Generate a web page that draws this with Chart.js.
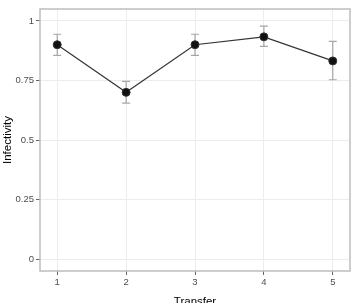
<!DOCTYPE html>
<html><head><meta charset="utf-8">
<script src="https://cdn.jsdelivr.net/npm/chart.js@4"></script>
<style>html,body{margin:0;padding:0;background:#fff}#wrap{width:355px;height:303px}</style>
</head><body><div id="wrap"><canvas id="c" width="355" height="303"></canvas></div>
<script>
const transfers = [1, 2, 3, 4, 5];
const infectivity = [0.90, 0.70, 0.90, 0.933, 0.832];
const errLower = [0.855, 0.655, 0.855, 0.893, 0.753];
const errUpper = [0.944, 0.746, 0.944, 0.978, 0.914];
const yTicks = [0, 0.25, 0.5, 0.75, 1];
const yTickLabels = ['0', '0.25', '0.5', '0.75', '1'];
const xTicks = [1, 2, 3, 4, 5];

const errorBars = {
  id: 'errorBars',
  beforeDatasetsDraw(chart) {
    const {ctx, chartArea: a, scales: {x, y}} = chart;
    ctx.save();
    ctx.strokeStyle = '#bdbdbd';
    ctx.lineWidth = 1.5;
    ctx.strokeRect(a.left, a.top, a.right - a.left, a.bottom - a.top);
    ctx.strokeStyle = '#a6a6a6';
    ctx.lineWidth = 1.2;
    transfers.forEach((t, i) => {
      const px = x.getPixelForValue(t);
      const lo = y.getPixelForValue(errLower[i]);
      const hi = y.getPixelForValue(errUpper[i]);
      ctx.beginPath();
      ctx.moveTo(px, lo); ctx.lineTo(px, hi);
      ctx.moveTo(px - 4, lo); ctx.lineTo(px + 4, lo);
      ctx.moveTo(px - 4, hi); ctx.lineTo(px + 4, hi);
      ctx.stroke();
    });
    ctx.restore();
  }
};

new Chart(document.getElementById('c'), {
  type: 'line',
  data: {
    datasets: [{
      data: transfers.map((t, i) => ({x: t, y: infectivity[i]})),
      borderColor: '#333333',
      borderWidth: 1.2,
      backgroundColor: '#111111',
      pointBackgroundColor: '#111111',
      pointBorderColor: '#333333',
      pointBorderWidth: 1,
      pointRadius: 4,
      tension: 0
    }]
  },
  options: {
    responsive: false,
    animation: false,
    devicePixelRatio: 1,
    layout: {padding: {left: 1, top: 9, right: 3, bottom: 0}},
    plugins: {legend: {display: false}, tooltip: {enabled: false}},
    scales: {
      x: {
        type: 'linear', min: 0.75, max: 5.25,
        afterBuildTicks: s => { s.ticks = xTicks.map(v => ({value: v})); },
        afterFit: s => { s.height = 32; },
        grid: {color: '#ececec', lineWidth: 1, tickLength: 4, tickColor: '#666', tickWidth: 1},
        border: {display: false},
        ticks: {color: '#4d4d4d', font: {family: 'Liberation Sans', size: 9.5}, padding: 2, maxRotation: 0, callback: v => String(v)},
        title: {display: true, text: 'Transfer', color: '#000', font: {family: 'Liberation Sans', size: 11.5}, padding: {top: 0, bottom: -6}}
      },
      y: {
        type: 'linear', min: -0.05, max: 1.05,
        afterBuildTicks: s => { s.ticks = yTicks.map(v => ({value: v})); },
        afterFit: s => { s.width = 39; },
        grid: {color: '#ececec', lineWidth: 1, tickLength: 4, tickColor: '#666', tickWidth: 1},
        border: {display: false},
        ticks: {color: '#4d4d4d', font: {family: 'Liberation Sans', size: 9.5}, padding: 2,
          callback: v => { const i = yTicks.indexOf(v); return i >= 0 ? yTickLabels[i] : ''; }},
        title: {display: true, text: 'Infectivity', color: '#000', font: {family: 'Liberation Sans', size: 11.5}, padding: {top: 0, bottom: 0}}
      }
    }
  },
  plugins: [errorBars]
});
</script></body></html>
